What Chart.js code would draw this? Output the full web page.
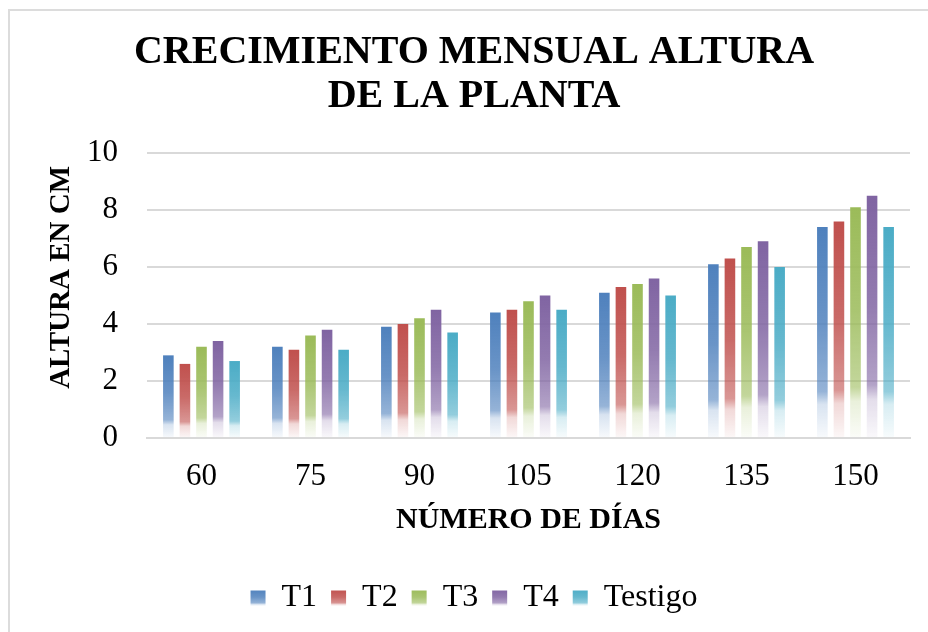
<!DOCTYPE html>
<html>
<head>
<meta charset="utf-8">
<script src="https://cdn.jsdelivr.net/npm/chart.js@4"></script>
<style>
  html, body { margin: 0; padding: 0; background: #fff; overflow: hidden; }
  #wrap { position: relative; width: 928px; height: 632px; }
  #frame { position: absolute; left: 8px; top: 9px; width: 960px; height: 660px;
           border-top: 2px solid #dcdcdc; border-left: 2px solid #dcdcdc; pointer-events: none; }
  canvas { position: absolute; left: 0; top: 0; }
</style>
</head>
<body>
<div id="wrap">
  <canvas id="chart" width="928" height="632"></canvas>
  <div id="frame"></div>
</div>
<script>
'use strict';

// ── Data ────────────────────────────────────────────────────
const DAYS      = ['60', '75', '90', '105', '120', '135', '150'];
const T1        = [2.9, 3.2, 3.9, 4.4, 5.1, 6.1, 7.4];
const T2        = [2.6, 3.1, 4.0, 4.5, 5.3, 6.3, 7.6];
const T3        = [3.2, 3.6, 4.2, 4.8, 5.4, 6.7, 8.1];
const T4        = [3.4, 3.8, 4.5, 5.0, 5.6, 6.9, 8.5];
const TESTIGO   = [2.7, 3.1, 3.7, 4.5, 5.0, 6.0, 7.4];
const SERIES    = ['T1', 'T2', 'T3', 'T4', 'Testigo'];
const Y_TICKS   = [0, 2, 4, 6, 8, 10];

// Office 2007 palette
const COLORS = ['#4F81BD', '#C0504D', '#9BBB59', '#8064A2', '#4BACC6'];

const SERIF = "'Liberation Serif', 'Times New Roman', serif";
Chart.defaults.font.family = SERIF;
Chart.defaults.color = '#000';

function rgba(hex, a) {
  const n = parseInt(hex.slice(1), 16);
  return `rgba(${(n >> 16) & 255},${(n >> 8) & 255},${n & 255},${a})`;
}

function addStops(g, hex) {
  g.addColorStop(0,    rgba(hex, 1));
  g.addColorStop(0.45, rgba(hex, 0.85));
  g.addColorStop(0.78, rgba(hex, 0.6));
  g.addColorStop(0.84, rgba(hex, 0.22));
  g.addColorStop(1,    rgba(hex, 0.04));
  return g;
}

// Excel-style gradient fill: solid at the top, fading out near the base
function barFill(hex) {
  return c => {
    const chart = c.chart;
    if (!chart.chartArea || c.type !== 'data') return hex;
    const ys = chart.scales.y;
    const top = ys.getPixelForValue(c.raw);
    const base = ys.getPixelForValue(0);
    return addStops(chart.ctx.createLinearGradient(0, top, 0, base), hex);
  };
}

const VALUES = [T1, T2, T3, T4, TESTIGO];
const datasets = SERIES.map((name, i) => ({
  label: name,
  data: VALUES[i],
  backgroundColor: barFill(COLORS[i]),
  borderWidth: 0,
  categoryPercentage: 0.76,
  barPercentage: 0.64
}));

new Chart(document.getElementById('chart'), {
  type: 'bar',
  data: { labels: DAYS, datasets },
  options: {
    responsive: false,
    animation: false,
    layout: { padding: { top: 10, left: 38, right: 18, bottom: 8 } },
    plugins: {
      title: {
        display: true,
        text: ['CRECIMIENTO MENSUAL ALTURA', 'DE LA PLANTA'],
        color: '#000',
        font: { size: 40, weight: 'bold', family: SERIF, lineHeight: 1.1 },
        padding: { top: 21, bottom: 34 }
      },
      legend: {
        position: 'bottom',
        labels: {
          font: { size: 32, family: SERIF },
          color: '#000',
          boxWidth: 15,
          boxHeight: 15,
          padding: 14,
          generateLabels: chart => {
            const items = Chart.defaults.plugins.legend.labels.generateLabels(chart);
            const y0 = chart.height - 43;
            items.forEach((it, i) => {
              it.fillStyle = addStops(chart.ctx.createLinearGradient(0, y0, 0, y0 + 18), COLORS[i]);
              it.lineWidth = 0;
              it.strokeStyle = 'rgba(0,0,0,0)';
            });
            return items;
          }
        }
      },
      tooltip: { enabled: false }
    },
    scales: {
      x: {
        grid: { display: false, drawTicks: false },
        border: { display: true, color: '#d9d9d9', width: 2 },
        ticks: { font: { size: 31, family: SERIF }, color: '#000', padding: 20 },
        title: {
          display: true,
          text: 'NÚMERO DE DÍAS',
          color: '#000',
          font: { size: 30, weight: 'bold', family: SERIF },
          padding: { top: 0, bottom: 30 }
        },
        afterFit: s => { s.height = 130; }
      },
      y: {
        min: 0,
        max: 10,
        afterBuildTicks: s => { s.ticks = Y_TICKS.map(v => ({ value: v })); },
        grid: { color: '#d9d9d9', lineWidth: 2, drawTicks: false },
        border: { display: false },
        ticks: { font: { size: 31, family: SERIF }, color: '#000', padding: 29 },
        title: {
          display: true,
          // leading spaces lift the rotated label a little, as in the original
          text: '     ALTURA EN CM',
          color: '#000',
          font: { size: 29, weight: 'bold', family: SERIF },
          padding: { top: 6, bottom: 0 }
        },
        afterFit: s => { s.width = 109; }
      }
    }
  }
});
</script>
</body>
</html>
